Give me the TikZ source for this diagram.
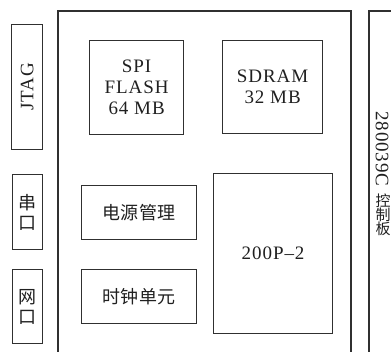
\documentclass[tikz,border=0pt]{standalone}
\usepackage{fontspec}
\setmainfont{Liberation Serif}[LetterSpace=5]
\newfontfamily\cjk{Noto Sans CJK SC}[LetterSpace=3]
\definecolor{linec}{HTML}{303030}
\definecolor{textc}{HTML}{202020}
\begin{document}
\begin{tikzpicture}[x=1pt,y=-1pt,
  box/.style={draw=linec, line width=1.2pt, inner sep=0pt, anchor=north west},
  lat/.style={font=\fontsize{19}{21}\selectfont, text=textc, align=center, inner sep=0pt},
  zh/.style={font=\cjk\fontsize{18}{20}\selectfont, text=textc, align=center, inner sep=0pt},
  frame/.style={draw=linec, line width=1.4pt}]
\useasboundingbox (0,0) rectangle (391,351);
% outer frames
\draw[frame] (58,352) -- (58,11) -- (351,11) -- (351,352);
\draw[frame] (369,352) -- (369,11) -- (392,11);
% left interface boxes
\node[box, minimum width=31pt, minimum height=125pt] (jtag) at (11,24) {};
\node[lat, rotate=90] (jtagt) at (jtag.center) {JTAG};
\node[box, minimum width=30pt, minimum height=75pt] (uart) at (12,174) {};
\node[zh] (uartt) at (uart.center) {串\\口};
\node[box, minimum width=30pt, minimum height=74pt] (eth) at (12,269) {};
\node[zh] (etht) at (eth.center) {网\\口};
% inner boxes
\node[box, minimum width=94pt, minimum height=94pt] (flash) at (89,40) {};
\node[lat] (flasht) at (flash.center) {SPI\\FLASH\\64 MB};
\node[box, minimum width=100pt, minimum height=93pt] (sdram) at (222,40) {};
\node[lat] (sdramt) at (sdram.center) {SDRAM\\32 MB};
\node[box, minimum width=115pt, minimum height=54pt] (power) at (81,185) {};
\node[zh] (powert) at (power.center) {电源管理};
\node[box, minimum width=115pt, minimum height=54pt] (clock) at (81,269) {};
\node[zh] (clockt) at (clock.center) {时钟单元};
\node[box, minimum width=119pt, minimum height=160pt] (fpga) at (213,173) {};
\node[lat] (fpgat) at (fpga.center) {200P–2};
% right board label
\node[lat, rotate=-90, anchor=west] (ctrlnum) at (382,111) {280039C};
\node[font=\cjk\fontsize{15}{14}\selectfont, text=textc, align=center, inner sep=0pt, anchor=north] (ctrlzh) at (383,194) {控\\制\\板};
\end{tikzpicture}
\end{document}
